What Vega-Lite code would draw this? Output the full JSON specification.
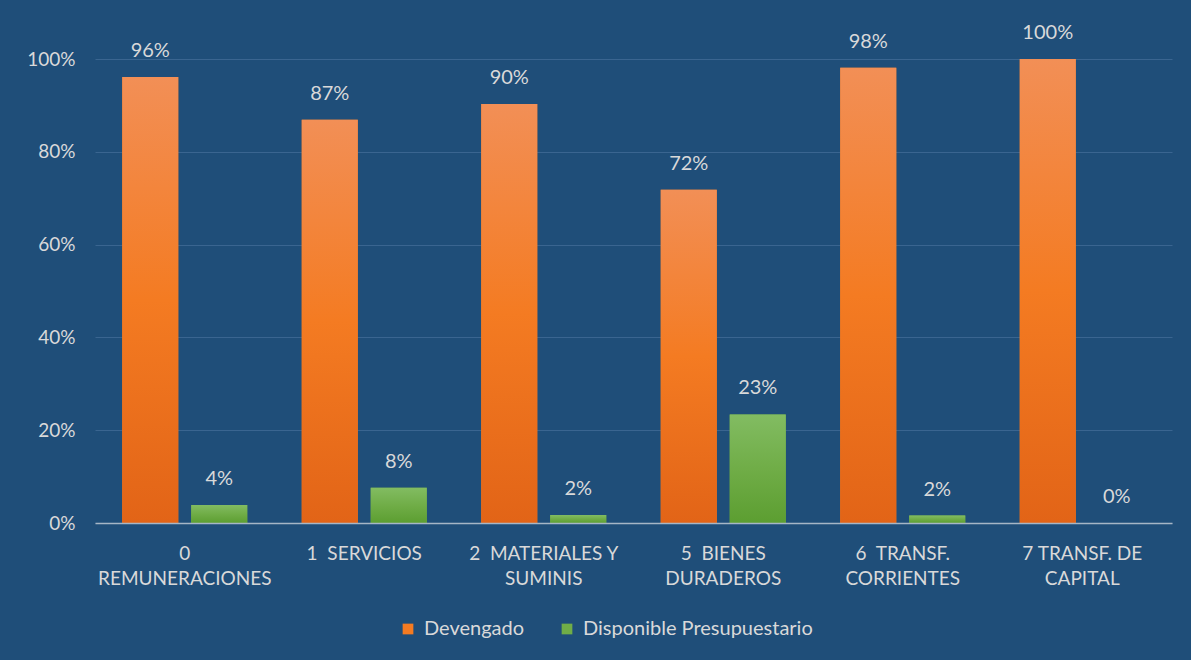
{
  "$schema": "https://vega.github.io/schema/vega-lite/v6.json",
  "width": 1077,
  "height": 464,
  "autosize": {"type": "none"},
  "padding": {"left": 95, "top": 59, "right": 19, "bottom": 137},
  "background": "#1F4E79",
  "config": {
    "view": {"stroke": null},
    "font": "Lato",
    "axis": {"labelFont": "Lato", "labelColor": "#D9D9D9"},
    "legend": {"labelFont": "Lato", "labelColor": "#D9D9D9"}
  },
  "data": {
    "values": [
      {"categoria": "0|REMUNERACIONES", "serie": "Devengado", "valor": 0.961},
      {"categoria": "0|REMUNERACIONES", "serie": "Disponible Presupuestario", "valor": 0.039},
      {"categoria": "1\u00a0 SERVICIOS", "serie": "Devengado", "valor": 0.869},
      {"categoria": "1\u00a0 SERVICIOS", "serie": "Disponible Presupuestario", "valor": 0.076},
      {"categoria": "2\u00a0 MATERIALES Y|SUMINIS", "serie": "Devengado", "valor": 0.903},
      {"categoria": "2\u00a0 MATERIALES Y|SUMINIS", "serie": "Disponible Presupuestario", "valor": 0.017},
      {"categoria": "5\u00a0 BIENES|DURADEROS", "serie": "Devengado", "valor": 0.718},
      {"categoria": "5\u00a0 BIENES|DURADEROS", "serie": "Disponible Presupuestario", "valor": 0.234},
      {"categoria": "6\u00a0 TRANSF.|CORRIENTES", "serie": "Devengado", "valor": 0.981},
      {"categoria": "6\u00a0 TRANSF.|CORRIENTES", "serie": "Disponible Presupuestario", "valor": 0.016},
      {"categoria": "7 TRANSF. DE|CAPITAL", "serie": "Devengado", "valor": 1.0},
      {"categoria": "7 TRANSF. DE|CAPITAL", "serie": "Disponible Presupuestario", "valor": 0.0}
    ]
  },
  "encoding": {
    "x": {
      "field": "categoria",
      "type": "nominal",
      "sort": null,
      "scale": {"paddingInner": 0, "paddingOuter": 0},
      "axis": {
        "title": null,
        "labelAngle": 0,
        "labelExpr": "split(datum.label, '|')",
        "labelFontSize": 19,
        "labelLineHeight": 25,
        "labelPadding": 21,
        "labelBaseline": "top",
        "labelLimit": 400,
        "ticks": false,
        "tickSize": 0,
        "domain": true,
        "domainColor": "#A6B6C6",
        "domainWidth": 1.5,
        "grid": false,
        "zindex": 1
      }
    },
    "xOffset": {
      "field": "serie",
      "type": "nominal",
      "scale": {"paddingInner": 0.188, "paddingOuter": 0.395}
    },
    "y": {
      "field": "valor",
      "type": "quantitative",
      "scale": {"domain": [0, 1], "nice": false},
      "axis": {
        "title": null,
        "format": ".0%",
        "values": [0, 0.2, 0.4, 0.6, 0.8, 1.0],
        "labelFontSize": 19,
        "labelPadding": 20,
        "ticks": false,
        "tickSize": 0,
        "domain": false,
        "grid": true,
        "gridColor": "#3A6590",
        "gridWidth": 1.2
      }
    }
  },
  "layer": [
    {
      "mark": {"type": "bar"},
      "encoding": {
        "color": {
          "field": "serie",
          "type": "nominal",
          "scale": {"domain": ["Devengado", "Disponible Presupuestario"], "range": ["#F47B22", "#70AD47"]},
          "legend": {
            "title": null,
            "orient": "none",
            "direction": "horizontal",
            "legendX": 303,
            "legendY": 560,
            "symbolType": "square",
            "symbolSize": 115,
            "symbolStrokeWidth": 0,
            "labelFontSize": 20,
            "labelOffset": 6,
            "labelLimit": 400,
            "columnPadding": 32
          }
        }
      }
    },
    {
      "transform": [{"filter": "datum.serie == 'Devengado'"}],
      "mark": {
        "type": "bar",
        "color": {
          "gradient": "linear", "x1": 0, "y1": 0, "x2": 0, "y2": 1,
          "stops": [
            {"offset": 0, "color": "#F28F56"},
            {"offset": 0.5, "color": "#F47B22"},
            {"offset": 1, "color": "#E26417"}
          ]
        }
      }
    },
    {
      "transform": [{"filter": "datum.serie == 'Disponible Presupuestario'"}],
      "mark": {
        "type": "bar",
        "color": {
          "gradient": "linear", "x1": 0, "y1": 0, "x2": 0, "y2": 1,
          "stops": [
            {"offset": 0, "color": "#82BC62"},
            {"offset": 0.5, "color": "#70AD47"},
            {"offset": 1, "color": "#5C9E31"}
          ]
        }
      }
    },
    {
      "mark": {"type": "text", "baseline": "bottom", "dy": -16, "fontSize": 20, "color": "#D9D9D9", "font": "Lato"},
      "encoding": {
        "text": {"field": "valor", "type": "quantitative", "format": ".0%"}
      }
    }
  ]
}
